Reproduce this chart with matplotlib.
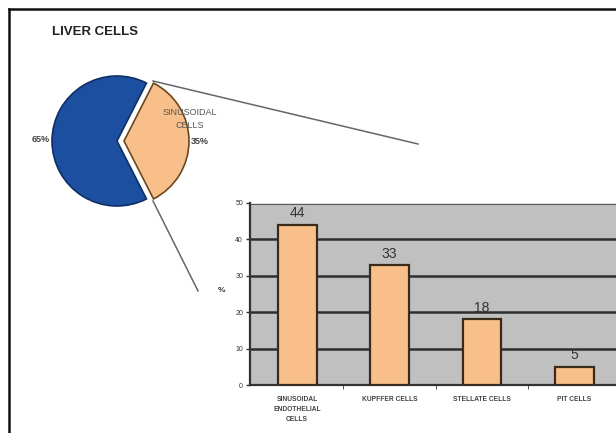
import matplotlib
matplotlib.use("Agg")
import matplotlib.pyplot as plt
import numpy as np

plt.rcParams['font.family'] = ['Liberation Sans', 'DejaVu Sans']

# pie data
pie_labels = ['', 'SINUSOIDAL\nCELLS']
pie_values = [65, 35]
pie_pct = ['65%', '35%']

# bar data
categories = ['SINUSOIDAL\nENDOTHELIAL\nCELLS', 'KUPFFER CELLS', 'STELLATE CELLS', 'PIT CELLS']
percent = [44, 33, 18, 5]

blue = '#1c4f9f'
orange = '#f9bf8b'
W, H = 616, 433

fig = plt.figure(figsize=(W / 100, H / 100), dpi=100)

# bar chart axes (runs off the right edge like the original)
bx0, by0, by1 = 250, 203, 385
ax = fig.add_axes([bx0 / W, 1 - by1 / H, (W - bx0) / W, (by1 - by0) / H])
ax.set_facecolor('#c0c0c0')
x = np.arange(len(categories))
ax.bar(x, percent, width=0.42, color=orange, edgecolor='#3a2a1a', linewidth=1.6, zorder=3)
for xi, v in zip(x, percent):
    ax.text(xi, v + 1.2, str(v), ha='center', va='bottom', fontsize=10, color='#333333', zorder=4)
ax.set_ylim(0, 50)
ax.set_xlim(-0.51, 3.45)
ax.set_yticks(range(0, 51, 10))
ax.set_yticklabels([str(t) for t in range(0, 51, 10)], fontsize=5, color='#333333')
ax.yaxis.grid(True, color='#2e2e2e', linewidth=1.8, zorder=1)
ax.set_xticks(x)
ax.set_xticklabels(categories, fontsize=4.8, fontweight='bold', color='#444444', linespacing=1.6)
ax.set_xticks([0.5, 1.5, 2.5], minor=True)
ax.tick_params(axis='x', which='major', length=0, pad=8)
ax.tick_params(axis='x', which='minor', length=3, color='#333333')
ax.tick_params(axis='y', length=3, width=1, color='#333333', pad=2)
for side in ['top', 'right']:
    ax.spines[side].set_visible(False)
ax.spines['left'].set_color('#333333')
ax.spines['left'].set_linewidth(1.6)
ax.spines['bottom'].set_color('#333333')
ax.spines['bottom'].set_linewidth(1.6)
ax.axhline(50, color='#e0e0e0', linewidth=1.5, zorder=2)
ax.set_ylabel('%', rotation=0, fontsize=6, fontweight='bold', color='#333333', labelpad=10)

# overlay axes in pixel coordinates for pie, frame, title and connectors
ov = fig.add_axes([0, 0, 1, 1], zorder=-1)
ov.pie(pie_values, center=(117, 141), radius=65, startangle=63, explode=[0, 7],
       colors=[blue, orange], frame=True,
       wedgeprops=dict(linewidth=1.2))
ov.patches[0].set_edgecolor('#0f2f66')
ov.patches[1].set_edgecolor('#6b4720')
ov.set_xlim(0, W)
ov.set_ylim(H, 0)
ov.set_aspect('auto')
ov.axis('off')

ov.plot([9, W], [9, 9], color='#111111', linewidth=1.8)
ov.plot([9, 9], [9, H], color='#111111', linewidth=1.8)

ov.text(52, 32, 'LIVER CELLS', fontsize=9.5, fontweight='bold', color='#222222', va='center')
ov.text(41, 140, pie_pct[0], fontsize=6.5, fontweight='bold', color='#444444', ha='center', va='center')
ov.text(190, 119, pie_labels[1], fontsize=6.5, color='#555555', ha='center', va='center', linespacing=1.5)
ov.text(200, 141, pie_pct[1], fontsize=6.5, fontweight='bold', color='#444444', ha='center', va='center')

ov.plot([153, 418], [81, 144], color='#666666', linewidth=1.1)
ov.plot([153, 198], [201, 291], color='#666666', linewidth=1.1)

fig.savefig('out.png', dpi=100)
